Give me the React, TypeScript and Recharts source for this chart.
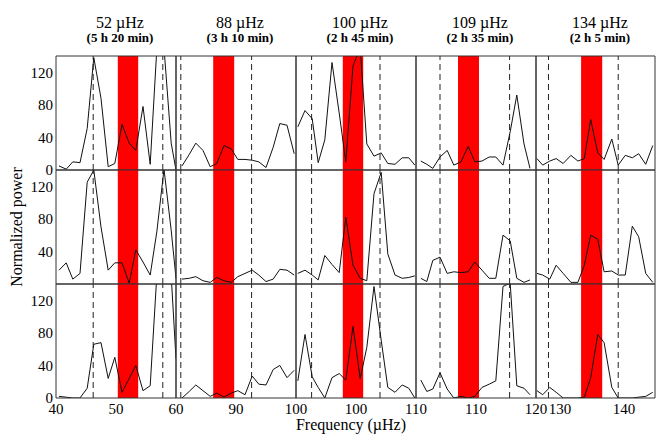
import React from 'react';
import { LineChart, Line, XAxis, YAxis, ReferenceArea, ReferenceLine } from 'recharts';

const titles = ['52 µHz', '88 µHz', '100 µHz', '109 µHz', '134 µHz'];
const durations = ['(5 h 20 min)', '(3 h 10 min)', '(2 h 45 min)', '(2 h 35 min)', '(2 h 5 min)'];

// frequency grid of each column (µHz)
const freq52 = [40.5, 41.7, 42.8, 44.0, 45.2, 46.3, 47.5, 48.7, 49.8, 51.0, 52.2, 53.3, 54.5, 55.7, 56.8, 58.0, 59.2, 60.0];
const freq88 = [81.0, 82.2, 83.3, 84.5, 85.7, 86.8, 88.0, 89.2, 90.3, 91.5, 92.7, 93.8, 95.0, 96.2, 97.3, 98.5, 99.7];
const freq100 = [90.3, 91.5, 92.7, 93.7, 94.8, 96.0, 97.2, 98.3, 99.5, 100.7, 101.8, 103.0, 104.2, 105.3, 106.5, 107.7, 108.8, 109.8];
const freq109 = [100.8, 101.8, 102.8, 104.0, 105.2, 106.3, 107.5, 108.7, 109.8, 111.0, 112.2, 113.3, 114.5, 115.7, 116.8, 118.0, 119.0];
const freq134 = [126.4, 127.3, 128.4, 129.4, 130.5, 131.7, 132.8, 133.8, 134.8, 135.9, 136.9, 138.1, 139.1, 140.2, 141.3, 142.3, 143.4, 144.5];

// normalized power, top / middle / bottom row
const power52Top = [5, 1, 10, 9, 51, 138, 88, 4, 8, 56, 33, 24, 78, 7, 148, 150, 33, 0];
const power52Mid = [17, 26, 6, 13, 125, 140, 70, 17, 26, 26, 1, 42, 27, 11, 64, 141, 66, 7];
const power52Bot = [2, 1, 0, 0, 12, 66, 68, 24, 50, 7, 24, 40, 9, 15, 150, 160, 150, 48];

const power88Top = [5, 19, 33, 24, 4, 8, 30, 26, 13, 13, 12, 10, 3, 28, 57, 55, 20];
const power88Mid = [6, 7, 9, 4, 2, 8, 4, 2, 9, 13, 17, 11, 3, 6, 18, 17, 11];
const power88Bot = [0, 8, 16, 9, 2, 6, 1, 6, 9, 4, 27, 17, 16, 35, 40, 25, 34];

const power100Top = [53, 73, 63, 9, 37, 132, 70, 10, 128, 150, 32, 17, 21, 8, 7, 15, 15, 6];
const power100Mid = [13, 17, 11, 5, 35, 24, 14, 82, 23, 7, 4, 111, 137, 37, 11, 7, 8, 10];
const power100Bot = [21, 78, 26, 13, 0, 25, 30, 22, 88, 24, 62, 137, 71, 13, 7, 16, 12, 0];

const power109Top = [11, 7, 2, 16, 24, 6, 10, 29, 10, 11, 16, 16, 6, 47, 92, 32, 2];
const power109Mid = [7, 3, 29, 33, 13, 15, 14, 15, 27, 17, 7, 7, 60, 53, 7, 2, 5];
const power109Bot = [22, 8, 11, 31, 11, 0, 2, 0, 2, 13, 17, 21, 137, 141, 15, 12, 4];

const power134Top = [14, 6, 11, 14, 8, 18, 11, 14, 62, 21, 13, 38, 6, 18, 15, 20, 7, 30];
const power134Mid = [13, 11, 6, 23, 13, 2, 2, 23, 60, 55, 15, 16, 11, 11, 71, 58, 13, 2];
const power134Bot = [9, 4, 13, 7, 0, 0, 0, 1, 25, 78, 68, 13, 0, 0, 0, 1, 2, 7];

const xDomains = [[40, 60], [80, 100], [90, 110], [100, 120], [126.25, 144.85]];
const xMinorTicks = [
  [40, 45, 50, 55, 60],
  [80, 85, 90, 95, 100],
  [90, 95, 100, 105, 110],
  [100, 105, 110, 115, 120],
  [130, 135, 140],
];
const xLabels = [[40, 50, 60], [90, 100], [100, 110], [110, 120], [130, 140]];
const bands = [[50.3, 53.7], [86.2, 89.7], [97.8, 101.2], [107.0, 110.5], [133.3, 136.6]];
const aliasLines = [[46.2, 57.8], [80.8, 92.6], [92.6, 104.0], [104.0, 115.6], [128.2, 139.1]];

const yMinorTicks = [0, 20, 40, 60, 80, 100, 120, 140];
const yLabels = [[0, 40, 80, 120], [40, 80, 120], [0, 40, 80, 120]];

const columns = [
  { freq: freq52, rows: [power52Top, power52Mid, power52Bot] },
  { freq: freq88, rows: [power88Top, power88Mid, power88Bot] },
  { freq: freq100, rows: [power100Top, power100Mid, power100Bot] },
  { freq: freq109, rows: [power109Top, power109Mid, power109Bot] },
  { freq: freq134, rows: [power134Top, power134Mid, power134Bot] },
];

const SERIF = '"Liberation Serif", "DejaVu Serif", serif';
const LEFT = 56;
const TOP = 56;
const PANEL_W = 120;
const PANEL_H = 114;
const Y_LAB_W = 56;
const X_LAB_H = 30;
const FRAME = '#333';
const tickStyle = { fill: '#000', fontSize: 15, fontFamily: SERIF };

const Panel = ({ col, row }: { col: number; row: number }) => {
  const c = columns[col];
  const data = c.freq.map((f, i) => ({ f, p: c.rows[row][i] }));
  const isLeft = col === 0;
  const isBottom = row === 2;
  const pw = col === 4 ? 119 : PANEL_W;
  const w = pw + (isLeft ? Y_LAB_W : 0);
  const h = PANEL_H + (isBottom ? X_LAB_H : 0);
  const domain = xDomains[col];
  return (
    <div
      style={{
        position: 'absolute',
        left: LEFT + PANEL_W * col - (isLeft ? Y_LAB_W : 0),
        top: TOP + PANEL_H * row,
      }}
    >
      <LineChart width={w} height={h} data={data} margin={{ top: 0, right: 0, bottom: 0, left: 0 }}>
        <XAxis xAxisId={0} type="number" dataKey="f" domain={domain} allowDataOverflow orientation="bottom" mirror
          ticks={xMinorTicks[col]} interval={0} tick={false} tickSize={4} stroke={FRAME} />
        <XAxis xAxisId="top" type="number" dataKey="f" domain={domain} allowDataOverflow orientation="top" mirror
          ticks={xMinorTicks[col]} interval={0} tick={false} tickSize={4} stroke={FRAME} />
        {isBottom && (
          <XAxis xAxisId="lab" type="number" dataKey="f" domain={domain} allowDataOverflow orientation="bottom"
            height={X_LAB_H} ticks={xLabels[col]} interval={0} tickLine={false} axisLine={false}
            tickSize={0} tickMargin={5} tick={tickStyle} />
        )}
        <YAxis yAxisId={0} type="number" domain={[0, 140]} allowDataOverflow orientation="left" mirror
          ticks={yMinorTicks} interval={0} tick={false} tickSize={4} stroke={FRAME} />
        <YAxis yAxisId="right" type="number" domain={[0, 140]} allowDataOverflow orientation="right" mirror
          ticks={yMinorTicks} interval={0} tick={false} tickSize={4} stroke={FRAME} />
        {isLeft && (
          <YAxis yAxisId="lab" type="number" domain={[0, 140]} allowDataOverflow orientation="left"
            width={Y_LAB_W} ticks={yLabels[row]} interval={0} tickLine={false} axisLine={false}
            tickSize={0} tickMargin={3} tick={tickStyle} />
        )}
        <ReferenceArea x1={bands[col][0]} x2={bands[col][1]} fill="#ff0000" fillOpacity={1} stroke="none" />
        {aliasLines[col].map((x) => (
          <ReferenceLine key={x} x={x} stroke="#222" strokeDasharray="6 4" />
        ))}
        <Line type="linear" dataKey="p" stroke="#111" strokeWidth={1} dot={false} isAnimationActive={false} />
      </LineChart>
    </div>
  );
};

export default function App() {
  const panels = [];
  for (let r = 0; r < 3; r++) {
    for (let c = 0; c < 5; c++) {
      panels.push(<Panel key={`${r}-${c}`} col={c} row={r} />);
    }
  }
  return (
    <div
      style={{
        position: 'absolute',
        left: 0,
        top: 0,
        width: 656,
        height: 435,
        background: '#fff',
        fontFamily: SERIF,
        overflow: 'hidden',
      }}
    >
      <style>
        {`.recharts-surface{overflow:visible}
.recharts-wrapper, .recharts-wrapper text{font-family:${SERIF} !important}`}
      </style>
      {panels}
      <svg width={656} height={435} style={{ position: 'absolute', left: 0, top: 0, pointerEvents: 'none' }}>
        {titles.map((t, i) => (
          <g key={t}>
            <text x={LEFT + PANEL_W * i + 64} y={28} textAnchor="middle" fontSize={16} fill="#000">{t}</text>
            <text x={LEFT + PANEL_W * i + 64} y={42} textAnchor="middle" fontSize={13} fontWeight="bold" fill="#000">
              {durations[i]}
            </text>
          </g>
        ))}
        <text x={22} y={227} textAnchor="middle" fontSize={16} fill="#000" transform="rotate(-90 22 227)">
          Normalized power
        </text>
        <text x={351} y={430} textAnchor="middle" fontSize={16} fill="#000">Frequency (µHz)</text>
      </svg>
    </div>
  );
}
